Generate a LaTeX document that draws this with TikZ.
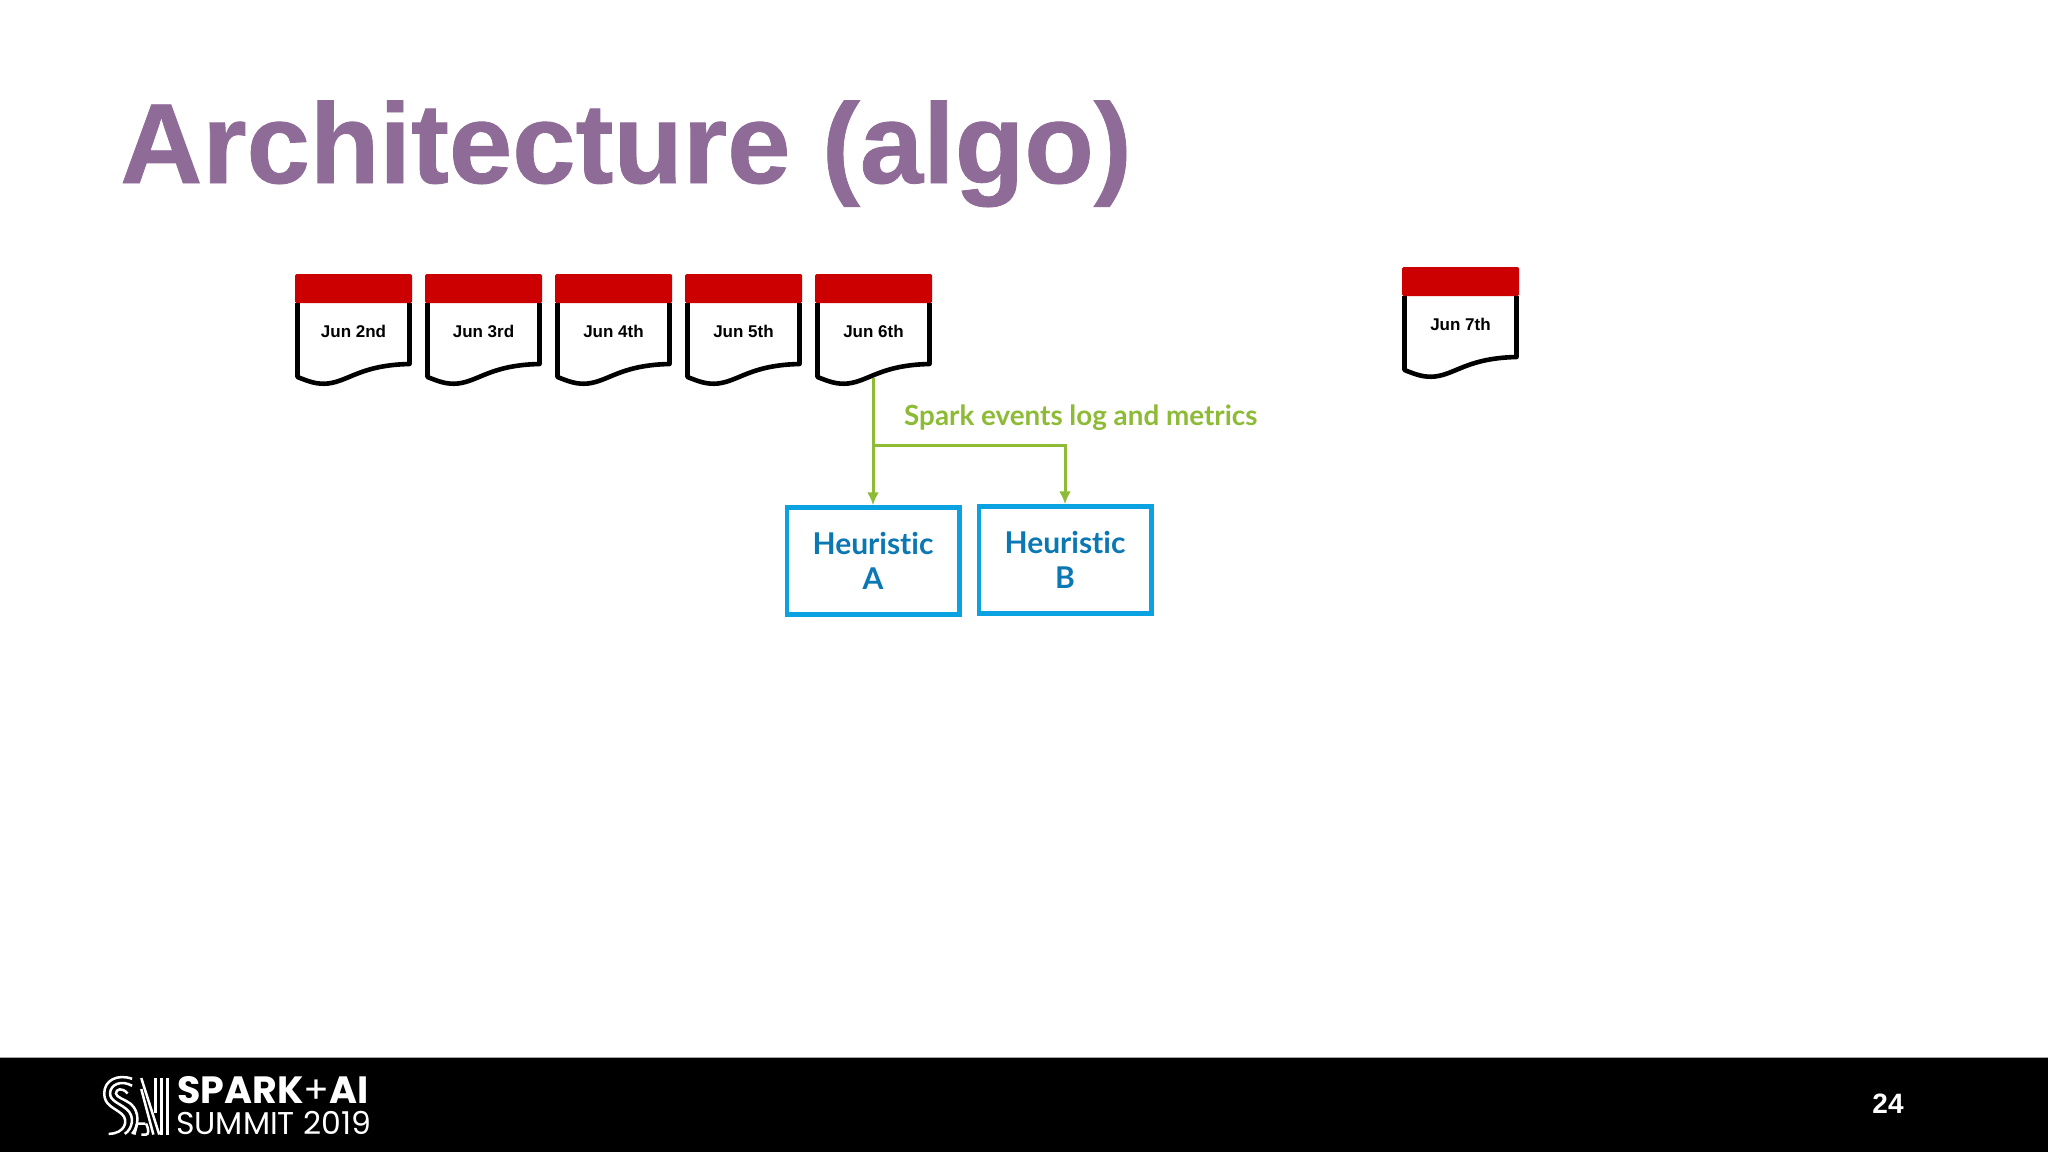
\documentclass[tikz,border=0pt]{standalone}
\usepackage{fontspec}
\usetikzlibrary{arrows.meta}
\setmainfont{Liberation Sans}
\newfontfamily\titlefont[BoldFeatures={FakeBold=0.7}]{Liberation Sans}
\newfontfamily\boxfont[Ligatures=NoCommon]{Lato}
\newfontfamily\logofont{Poppins}
\definecolor{titlepurple}{HTML}{8E6C97}
\definecolor{pagered}{HTML}{CC0000}
\definecolor{flowgreen}{HTML}{8DBB35}
\definecolor{boxblue}{HTML}{0BA2E2}
\definecolor{boxtext}{HTML}{0B78B4}
\tikzset{
  datetext/.style={anchor=base, font=\fontsize{17}{20}\selectfont\bfseries},
  heurbox/.style={draw=boxblue, line width=4.5pt, fill=white, align=center, text=boxtext,
    minimum width=172.5pt, minimum height=107pt, inner sep=0pt,
    font=\boxfont\fontsize{30}{34.5}\selectfont\bfseries},
  flowline/.style={draw=flowgreen, line width=3pt},
  logoline/.style={draw=white, line width=2.5pt}
}
\begin{document}
\begin{tikzpicture}[x=1pt, y=-1pt]
  \useasboundingbox (0,0) rectangle (2048,1152);
  \fill[white] (0,0) rectangle (2048,1152);
  \def \pagewave {(2.5,29) -- (2.5,103) .. controls (15,108) and (22,110.5) .. (33,109.5)
    .. controls (54,107) and (66,91) .. (114.5,90) -- (114.5,29)}
  \def\calpage#1#2#3#4{
    \begin{scope}[shift={(#2,#3)}]
      \draw[line width=4.6pt, line join=round, fill=white] \pagewave;
      \fill[pagered, rounded corners=1.5pt] (0,0) rectangle (117,29);
      \node[datetext] (#1) at (58.5,63) {#4};
      \coordinate (#1foot) at (58,104);
    \end{scope}
  }

  \node[anchor=base west, text=titlepurple, inner sep=0pt,
    font=\titlefont\fontsize{113.8}{120}\selectfont\bfseries] (title) at (120,183) {Architecture (algo)};

  \foreach \d [count=\s from 2] in {Jun 2nd,Jun 3rd,Jun 4th,Jun 5th,Jun 6th}
  {
    \calpage{jun\s}{{295+130*(\s-2)}}{274}{\d}
  }
  \calpage{jun7}{1402}{267}{Jun 7th}

  \node[heurbox] (heurA) at (873,561) {Heuristic\\A};
  \node[heurbox] (heurB) at (1065,560) {Heuristic\\B};
  \coordinate (split) at (873,445);
  \draw[flowline, -{Latex[length=13pt,width=12pt]}] (jun6foot) -- (heurA.north);
  \draw[flowline, -{Latex[length=13pt,width=12pt]}] (split) -| (heurB.north);
  \node[anchor=base west, inner sep=0pt, text=flowgreen,
    font=\boxfont\fontsize{27.8}{30}\selectfont\bfseries] (logtext) at (904,425) {Spark events log and metrics};

  % footer bar
  \fill[black] (0,1058) rectangle (2048,1152);
  \draw[gray!70, line width=1pt] (0,1057.5) -- (2048,1057.5);
  \node[anchor=base west, inner sep=0pt, text=white, font=\logofont\fontsize{38}{40}\selectfont] (brand) at (177,1103)
    {\textbf{SPARK}+\textbf{AI}};
  \node[anchor=base west, inner sep=0pt, text=white, font=\logofont\fontsize{31.5}{34}\selectfont] (event) at (176,1134)
    {SUMMIT 2019};
  \node[text=white, inner sep=0pt, font=\fontsize{28}{30}\selectfont\bfseries] (pagenum) at (1888,1104) {24};

  % logo, in crop pixels
  \begin{scope}[shift={(91,1068.5)}, x=0.367pt, y=-0.367pt]
    \draw[logoline] (112,28) .. controls (72,14) and (36,32) .. (36,68)
      .. controls (36,100) and (62,106) .. (84,124) .. controls (104,142) and (92,178) .. (48,178);
    \draw[logoline] (112,47) .. controls (82,30) and (52,44) .. (52,68)
      .. controls (52,88) and (76,94) .. (96,110) .. controls (122,130) and (112,166) .. (92,178);
    \draw[logoline] (100,68) .. controls (84,50) and (68,56) .. (68,68)
      .. controls (68,78) and (92,84) .. (108,96) .. controls (134,118) and (130,158) .. (112,178);
    \draw[logoline] (137,26) -- (186,180);
    \draw[logoline] (137,56) -- (170,180);
    \draw[logoline] (118,180) -- (126,150) -- (148,150);
    \draw[logoline] (137,180) -- (150,180) .. controls (158,180) and (158,165) .. (150,150);
    \draw[logoline] (176,26) -- (176,120);
    \draw[logoline] (192,26) -- (192,180);
    \draw[logoline] (208,26) -- (208,180);
  \end{scope}
\end{tikzpicture}
\end{document}
